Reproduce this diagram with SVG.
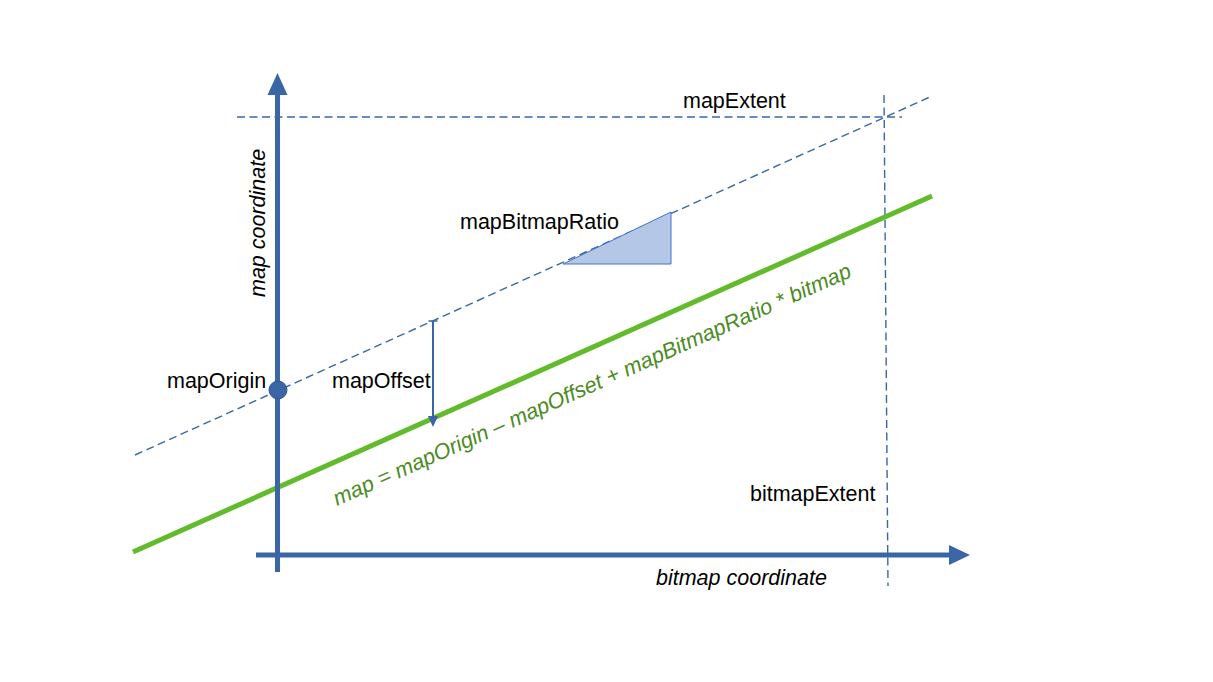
<svg xmlns="http://www.w3.org/2000/svg" width="1213" height="682" viewBox="0 0 1213 682">
<style>
.lbl{font-family:"Liberation Sans",Arial,sans-serif;font-size:21.5px;fill:#000}
.it{font-style:italic}
.dash{stroke:#3b66a6;stroke-width:1.4;stroke-dasharray:8 4.5;fill:none}
.axis{stroke:#3b66a6;stroke-width:5;fill:none}
.ah{fill:#3b66a6}
</style>
<rect width="1213" height="682" fill="#fff"/>
<g id="connectors">
  <line class="dash" x1="237" y1="117" x2="902" y2="117"/>
  <line class="dash" x1="884" y1="95" x2="888" y2="586"/>
  <line class="dash" x1="135" y1="455" x2="932" y2="96"/>
  <line id="map-line" x1="133" y1="552" x2="932" y2="196" stroke="#62bb2a" stroke-width="5"/>
  <g id="y-axis">
    <line class="axis" x1="277.5" y1="572" x2="277.5" y2="92"/>
    <polygon class="ah" points="277.5,73 267.5,95 287.5,95"/>
  </g>
  <g id="x-axis">
    <line class="axis" x1="256" y1="555" x2="952" y2="555"/>
    <polygon class="ah" points="970,555 949,545 949,565"/>
  </g>
  <g id="offset-arrow">
    <line x1="433" y1="321" x2="433" y2="418" stroke="#3b66a6" stroke-width="2"/>
    <line x1="428.5" y1="321" x2="437.5" y2="321" stroke="#3b66a6" stroke-width="1.5"/>
    <polygon class="ah" points="433,427 428,416 438,416"/>
  </g>
</g>
<g id="ratio-triangle">
  <polygon points="563,264 671,212 671,264" fill="#b4c7e7" stroke="#4472c4" stroke-width="1"/>
</g>
<g id="map-origin">
  <circle cx="278" cy="390" r="9" fill="#3b66a6" stroke="#2f5590" stroke-width="1"/>
  <text class="lbl" x="167" y="388">mapOrigin</text>
</g>
<g id="labels">
  <text class="lbl" x="683" y="108">mapExtent</text>
  <text class="lbl" x="460" y="229">mapBitmapRatio</text>
  <text class="lbl" x="332" y="388">mapOffset</text>
  <text class="lbl" x="750" y="501">bitmapExtent</text>
  <text class="lbl it" x="656" y="585">bitmap coordinate</text>
  <text class="lbl it" transform="translate(265,297) rotate(-90)">map coordinate</text>
  <text class="lbl it" style="fill:#4b8b1f;font-size:21.8px" transform="translate(337,506) rotate(-24)">map = mapOrigin – mapOffset + mapBitmapRatio * bitmap</text>
</g>
</svg>
